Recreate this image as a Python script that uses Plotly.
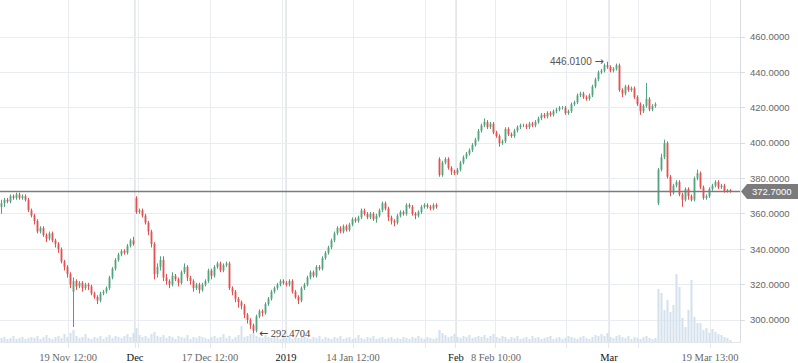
import plotly.graph_objects as go

# ---------------- data ----------------
open_vals = [
    364, 366, 368, 367, 370, 369, 371, 369, 370, 368,
    362, 359, 356, 350, 352, 348, 346, 349, 345, 343,
    340, 333, 330, 326, 316, 322, 319, 321, 318, 320,
    319, 315, 313, 311, 315, 316, 318, 324, 329, 334,
    337, 339, 338, 342, 345, 369, 361, 362, 359, 355,
    350, 343, 326, 330, 334, 324, 322, 320, 325, 323,
    321, 327, 330, 324, 322, 318, 320, 317, 320, 322,
    328, 325, 330, 332, 328, 331, 332, 318, 316, 312,
    310, 308, 303, 300, 297, 294, 302, 305, 304, 309,
    312, 316, 318, 320, 322, 321, 320, 322, 316, 313,
    311, 318, 320, 324, 327, 325, 330, 329, 335, 338,
    341, 345, 349, 352, 350, 353, 351, 354, 357, 356,
    358, 362, 360, 358, 360, 357, 359, 362, 366, 363,
    358, 356, 355, 359, 361, 360, 365, 364, 360, 359,
    361, 364, 365, 364, 363, 365, 391, 382, 389, 391,
    386, 384, 383, 385, 389, 392, 394, 396, 399, 402,
    407, 410, 412, 409, 411, 406, 404, 400, 401, 408,
    405, 404, 407, 409, 410, 410, 409, 411, 410, 412,
    414, 416, 415, 417, 416, 418, 419, 420, 420, 417,
    418, 422, 423, 427, 428, 426, 425, 427, 432, 436,
    440, 441, 444, 443, 441, 442, 444, 430, 428, 432,
    430, 431, 426, 422, 418, 421, 425, 419, 421, 366,
    385, 392, 400, 381, 372, 376, 378, 371, 368, 374,
    370, 368, 380, 383, 375, 369, 370, 374, 376, 378,
    375, 376, 373, 373.5,
]
high_vals = [
    368, 369, 369, 371, 371, 372, 372, 371, 371, 369,
    363, 360, 357, 353, 353, 349, 350, 350, 346, 344,
    341, 334, 331, 327, 324, 323, 322, 322, 321, 321,
    320, 316, 314, 316, 317, 319, 325, 330, 335, 338,
    340, 340, 343, 346, 347, 370, 363, 363, 360, 356,
    351, 344, 332, 336, 336, 326, 323, 327, 326, 324,
    328, 332, 331, 325, 323, 321, 321, 321, 323, 329,
    329, 331, 333, 333, 332, 333, 333, 319, 317, 313,
    311, 309, 304, 301, 298, 303, 306, 306, 310, 313,
    317, 319, 321, 323, 323, 322, 323, 323, 317, 314,
    319, 321, 325, 328, 328, 331, 331, 336, 339, 342,
    346, 350, 353, 353, 354, 354, 355, 358, 358, 359,
    363, 363, 361, 361, 361, 360, 363, 367, 367, 364,
    359, 357, 360, 362, 362, 366, 366, 365, 361, 362,
    365, 366, 366, 365, 366, 366, 392, 390, 392, 392,
    387, 385, 386, 390, 393, 395, 397, 400, 403, 408,
    411, 414, 413, 412, 412, 407, 405, 402, 409, 409,
    406, 408, 410, 411, 411, 411, 412, 412, 413, 415,
    417, 417, 418, 418, 419, 420, 421, 421, 421, 419,
    423, 424, 428, 429, 429, 427, 428, 433, 437, 441,
    442, 445, 446.01, 444, 443, 445, 445, 431, 433, 433,
    432, 432, 427, 423, 422, 434, 426, 422, 423, 386,
    394, 402, 401, 382, 377, 379, 379, 372, 375, 375,
    371, 381, 385, 384, 376, 371, 375, 377, 379, 379,
    377, 377, 374, 374,
]
low_vals = [
    360, 364, 366, 366, 368, 368, 368, 368, 367, 361,
    358, 354, 349, 349, 347, 344, 345, 344, 341, 338,
    332, 328, 324, 318, 296, 317, 318, 316, 317, 317,
    314, 312, 309, 310, 314, 315, 317, 323, 328, 333,
    336, 337, 337, 341, 342, 360, 360, 358, 354, 348,
    341, 323, 324, 328, 322, 320, 318, 319, 322, 319,
    320, 326, 322, 320, 316, 317, 315, 316, 319, 321,
    323, 324, 329, 327, 327, 330, 317, 314, 310, 307,
    306, 301, 298, 295, 292.4704, 293, 301, 302, 303, 308,
    311, 315, 317, 319, 320, 319, 319, 315, 312, 309,
    310, 317, 319, 323, 324, 324, 328, 328, 334, 337,
    340, 344, 348, 349, 349, 350, 350, 353, 355, 355,
    357, 359, 357, 357, 356, 355, 358, 361, 362, 356,
    354, 353, 354, 358, 359, 359, 363, 359, 357, 358,
    360, 363, 363, 362, 362, 363, 381, 381, 388, 385,
    382, 382, 382, 384, 388, 391, 393, 395, 398, 401,
    406, 409, 408, 408, 405, 403, 398, 399, 400, 404,
    403, 403, 406, 408, 409, 408, 408, 409, 409, 411,
    413, 414, 414, 415, 415, 417, 418, 419, 416, 416,
    417, 421, 422, 426, 425, 424, 424, 426, 431, 435,
    439, 440, 442, 440, 440, 441, 429, 426, 427, 429,
    429, 425, 421, 416, 417, 420, 418, 418, 420, 365,
    384, 391, 380, 370, 371, 375, 370, 364, 367, 368,
    367, 367, 379, 374, 368, 368, 369, 373, 375, 374,
    374, 372, 372, 372,
]
close_vals = [
    366, 368, 367, 370, 369, 371, 369, 370, 368, 362,
    359, 356, 350, 352, 348, 346, 349, 345, 343, 340,
    333, 330, 326, 320, 322, 319, 321, 318, 320, 319,
    315, 313, 311, 315, 316, 318, 324, 329, 334, 337,
    339, 338, 342, 345, 343, 361, 362, 359, 355, 350,
    343, 326, 330, 334, 324, 322, 320, 325, 323, 321,
    327, 330, 324, 322, 318, 320, 317, 320, 322, 328,
    325, 330, 332, 328, 331, 332, 318, 316, 312, 310,
    308, 303, 300, 297, 294, 302, 305, 304, 309, 312,
    316, 318, 320, 322, 321, 320, 322, 316, 313, 311,
    318, 320, 324, 327, 325, 330, 329, 335, 338, 341,
    345, 349, 352, 350, 353, 351, 354, 357, 356, 358,
    362, 360, 358, 360, 357, 359, 362, 366, 363, 358,
    356, 355, 359, 361, 360, 365, 364, 360, 359, 361,
    364, 365, 364, 363, 365, 364, 382, 389, 391, 386,
    384, 383, 385, 389, 392, 394, 396, 399, 402, 407,
    410, 412, 409, 411, 406, 404, 400, 401, 408, 405,
    404, 407, 409, 410, 410, 409, 411, 410, 412, 414,
    416, 415, 417, 416, 418, 419, 420, 420, 417, 418,
    422, 423, 427, 428, 426, 425, 427, 432, 436, 440,
    441, 444, 443, 441, 442, 444, 430, 428, 432, 430,
    431, 426, 422, 418, 421, 425, 419, 421, 422, 385,
    392, 400, 381, 372, 376, 378, 371, 368, 374, 370,
    368, 380, 383, 375, 369, 370, 374, 376, 378, 375,
    376, 373, 373.5, 372.7,
]
volume_vals = [
    4, 5, 3, 4, 6, 3, 4, 5, 3, 4,
    5, 4, 6, 3, 5, 7, 4, 3, 5, 6,
    4, 8, 5, 9, 12, 6, 4, 5, 8, 4,
    3, 5, 4, 6, 3, 5, 7, 4, 6, 5,
    4, 6, 8, 5, 9, 14, 7, 5, 6, 4,
    8, 10, 6, 5, 7, 4, 6, 5, 3, 6,
    5, 4, 7, 3, 5, 4, 6, 5, 4, 3,
    5, 6, 4, 5, 8, 4, 6, 3, 5, 7,
    16, 5, 6, 8, 9, 6, 5, 4, 7, 5,
    4, 6, 5, 3, 5, 4, 6, 3, 5, 4,
    6, 5, 4, 3, 5, 4, 6, 3, 5, 4,
    3, 5, 4, 6, 3, 4, 5, 3, 4, 7,
    4, 3, 5, 4, 6, 3, 4, 5, 3, 4,
    5, 3, 4, 3, 5, 4, 3, 5, 4, 6,
    4, 3, 5, 4, 3, 4, 12, 9, 7, 5,
    6, 8, 5, 4, 6, 5, 7, 4, 5, 6,
    5, 7, 4, 6, 8, 5, 4, 6, 5, 3,
    5, 4, 6, 3, 4, 5, 3, 6, 4, 5,
    3, 4, 5, 6, 3, 4, 5, 3, 4, 6,
    5, 4, 3, 5, 6, 4, 3, 5, 7, 6,
    8, 6, 9, 5, 4, 6, 7, 5, 4, 6,
    3, 5, 4, 3, 5, 6, 4, 3, 4, 53,
    49, 32, 42, 30, 37, 68, 55, 24, 15, 32,
    62, 25, 19, 19, 12, 14, 9, 13, 10, 8,
    7, 5, 4, 2,
]
last_price = 372.7
high_label = 446.01
low_label = 292.4704

# x-axis: bar positions where the labelled times / grid lines fall
grid_ticks = [22.17, 45.83, 69.5, 93.5, 117.17, 141.17, 164.83, 188.5, 212.5, 236.17]
grid_labels = ["19 Nov 12:00", "", "17 Dec 12:00", "", "14 Jan 12:00", "",
               "8 Feb 10:00", "", "", "19 Mar 13:00"]
month_ticks = [44.5, 94.83, 151.5, 202.5]
month_labels = ["Dec", "2019", "Feb", "Mar"]
price_ticks = [300, 320, 340, 360, 380, 400, 420, 440, 460]

# ---------------- figure ----------------
GREEN = "#4fa37b"
RED = "#e0504e"
x_idx = list(range(len(close_vals)))
i_hi = high_vals.index(max(high_vals))
i_lo = low_vals.index(min(low_vals))

fig = go.Figure()
fig.add_trace(go.Bar(
    x=x_idx, y=volume_vals, yaxis="y2",
    marker=dict(color="#d5e2ee", line=dict(width=0)),
    hoverinfo="skip", showlegend=False,
))
fig.add_trace(go.Candlestick(
    x=x_idx, open=open_vals, high=high_vals, low=low_vals, close=close_vals,
    increasing=dict(line=dict(color=GREEN, width=1), fillcolor=GREEN),
    decreasing=dict(line=dict(color=RED, width=1), fillcolor=RED),
    whiskerwidth=0, showlegend=False,
))

all_ticks = grid_ticks + month_ticks
all_text = grid_labels + ['<span style="color:#111">%s</span>' % m for m in month_labels]

shapes = []
for mt in month_ticks:
    shapes.append(dict(type="line", xref="x", yref="paper", x0=mt, x1=mt, y0=0, y1=1,
                       line=dict(color="#d2d5d8", width=1.2), layer="below"))
shapes.append(dict(type="line", xref="paper", yref="y", x0=0, x1=1, y0=last_price, y1=last_price,
                   line=dict(color="#7b7b7b", width=1.5)))
# price tag on the right axis
px_per_unit = 342 / (480.92 - 287.56)
h = 7.5 / px_per_unit
x_tip = 1 + 1.0 / 740
x_body = 1 + 7.0 / 740
x_end = 1 + 58.0 / 740
shapes.append(dict(
    type="path", xref="paper", yref="y",
    path=f"M {x_tip} {last_price} L {x_body} {last_price + h} L {x_end} {last_price + h} "
         f"L {x_end} {last_price - h} L {x_body} {last_price - h} Z",
    fillcolor="#7b7b7b", line=dict(width=0),
))

ARROW_STYLE = 'font-family:DejaVu Sans;font-size:11px'
annotations = [
    dict(x=1 + 32.0 / 740, xref="paper", y=last_price, yref="y", text="%.4f" % last_price,
         showarrow=False, font=dict(family="Liberation Sans, Arial", size=9.5, color="white"),
         xanchor="center", yanchor="middle"),
    dict(x=i_hi, y=high_label, xref="x", yref="y",
         text='%.4f <span style="%s">→</span>' % (high_label, ARROW_STYLE),
         showarrow=False, xanchor="right", yanchor="middle", xshift=-1,
         font=dict(family="Liberation Sans, Arial", size=10, color="#555")),
    dict(x=i_lo, y=low_label, xref="x", yref="y",
         text='<span style="%s">←</span> %.4f' % (ARROW_STYLE, low_label),
         showarrow=False, xanchor="left", yanchor="middle", xshift=3,
         font=dict(family="Liberation Serif, Times New Roman", size=10.5, color="#444")),
]

fig.update_layout(
    width=798, height=363,
    margin=dict(l=0, r=58, t=0, b=21),
    paper_bgcolor="white", plot_bgcolor="white",
    showlegend=False,
    bargap=0.3,
    boxgap=0.6,
    shapes=shapes,
    annotations=annotations,
    xaxis=dict(
        range=[-0.5, 246.17],
        rangeslider=dict(visible=False),
        tickmode="array", tickvals=all_ticks, ticktext=all_text,
        showgrid=True, gridcolor="#e9edf1", gridwidth=1,
        ticks="outside", ticklen=5, tickcolor="#e3e7eb",
        showline=True, linecolor="#e3e7eb", linewidth=1,
        tickfont=dict(family="Liberation Serif, Times New Roman", size=10.5, color="#666"),
        zeroline=False, fixedrange=True,
    ),
    yaxis=dict(
        side="right",
        range=[287.56, 480.92],
        tickmode="array", tickvals=price_ticks,
        ticktext=["%.4f" % v for v in price_ticks],
        showgrid=True, gridcolor="#e9edf1", gridwidth=1,
        showline=True, linecolor="#d9dde1", linewidth=1,
        ticks="outside", ticklen=4, tickcolor="#d9dde1",
        ticklabelstandoff=3,
        tickfont=dict(family="Liberation Sans, Arial", size=9.5, color="#666"),
        zeroline=False,
    ),
    yaxis2=dict(
        overlaying="y", range=[0, 342], visible=False, showgrid=False,
    ),
)

fig.write_html(
    "out.html",
    config={"displayModeBar": False},
    post_script="document.body.style.margin='0';document.body.style.padding='0';",
)
